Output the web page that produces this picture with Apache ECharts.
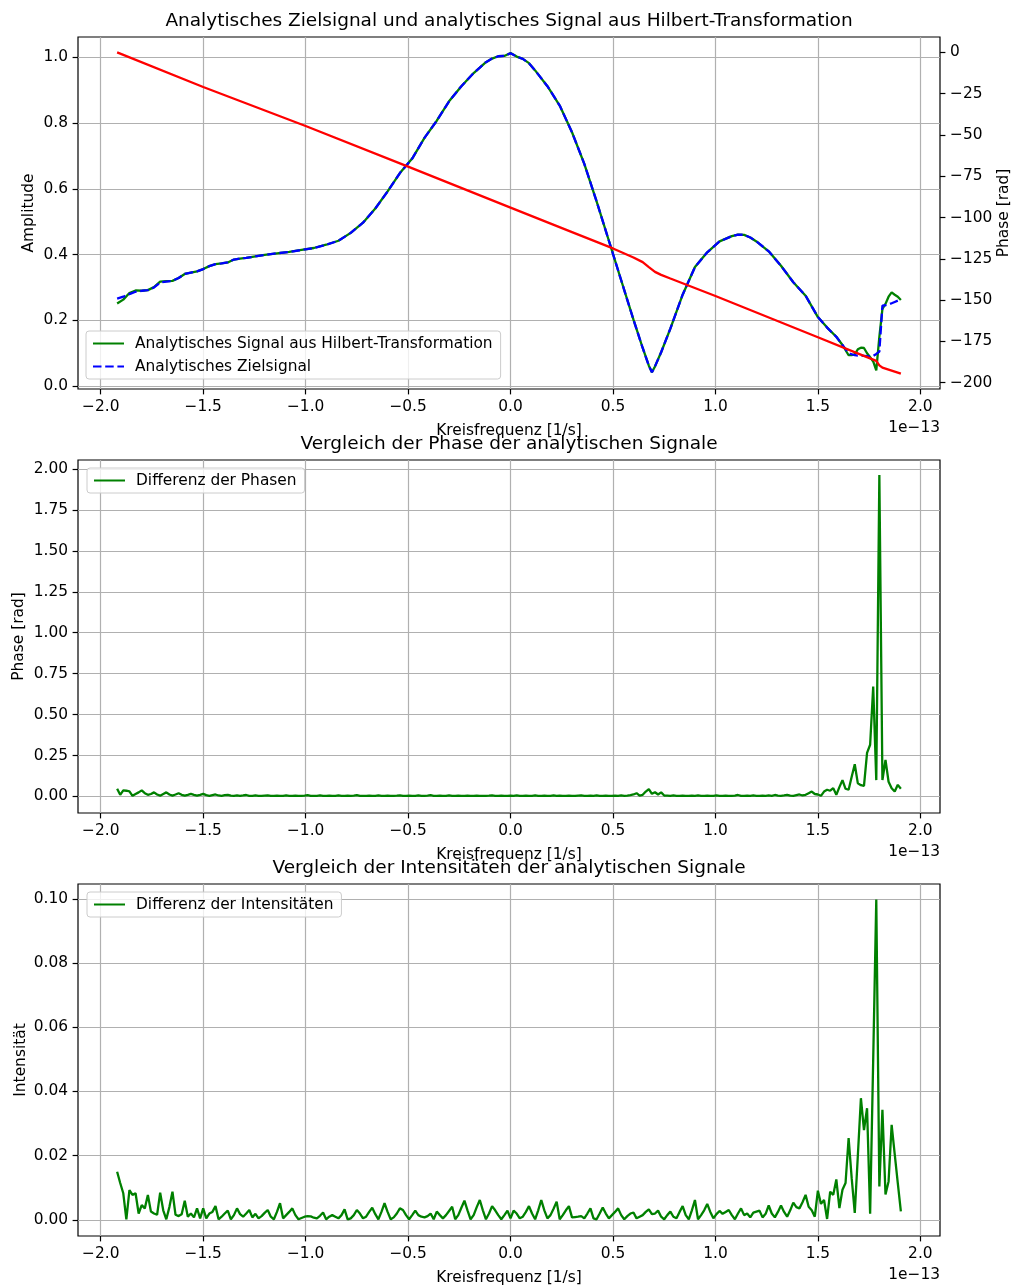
<!DOCTYPE html>
<html>
<head>
<meta charset="utf-8">
<title>Analytisches Signal</title>
<script src="https://cdn.jsdelivr.net/npm/echarts@6/dist/echarts.min.js"></script>
<style>
  html, body { margin: 0; padding: 0; background: #ffffff; }
  #chart { width: 1014px; height: 1286px; }
</style>
</head>
<body>
<div id="chart"></div>
<script>
// ---------------------------------------------------------------------------
// Data (frequency values are in units of 1e-13, shown by the offset label)
// ---------------------------------------------------------------------------
const FREQ_OFFSET_LABEL = '1e\u221213';
const N_SAMPLES = 256;
const FREQ_STEP = 0.015;
// fftshift-ordered sampling grid, -N/2 ... N/2-1 steps
const omega = Array.from({ length: N_SAMPLES }, (_, i) => (i - N_SAMPLES / 2) * FREQ_STEP);

// Amplitude curves (top panel)
const ampFreq = [
  -1.92, -1.89, -1.86, -1.83, -1.80, -1.77, -1.74, -1.71, -1.68, -1.65,
  -1.62, -1.59, -1.56, -1.53, -1.50, -1.47, -1.44, -1.41, -1.38, -1.35,
  -1.32, -1.29, -1.26, -1.23, -1.20, -1.14, -1.08, -1.02, -0.96, -0.90,
  -0.84, -0.78, -0.72, -0.66, -0.60, -0.54, -0.48, -0.42, -0.36, -0.30,
  -0.24, -0.18, -0.12, -0.09, -0.06, -0.03, 0.00, 0.03, 0.06, 0.09,
  0.12, 0.18, 0.24, 0.30, 0.36, 0.42, 0.48, 0.54, 0.60, 0.645,
  0.675, 0.69, 0.705, 0.735, 0.78, 0.84, 0.90, 0.96, 1.02, 1.08,
  1.11, 1.14, 1.17, 1.20, 1.26, 1.32, 1.38, 1.44, 1.50, 1.545,
  1.59, 1.62, 1.65, 1.665, 1.68, 1.695, 1.71, 1.725, 1.74, 1.755,
  1.77, 1.785, 1.80, 1.815, 1.83, 1.845, 1.86, 1.875, 1.89, 1.905
];
const ampHilbert = [
  0.251, 0.263, 0.283, 0.291, 0.290, 0.292, 0.301, 0.318, 0.319, 0.320,
  0.329, 0.341, 0.345, 0.349, 0.356, 0.365, 0.371, 0.373, 0.376, 0.385,
  0.388, 0.390, 0.393, 0.396, 0.399, 0.404, 0.408, 0.414, 0.420, 0.430,
  0.442, 0.466, 0.497, 0.540, 0.592, 0.648, 0.692, 0.755, 0.807, 0.866,
  0.912, 0.952, 0.985, 0.996, 1.003, 1.004, 1.013, 1.002, 0.995, 0.982,
  0.960, 0.912, 0.853, 0.772, 0.676, 0.562, 0.442, 0.322, 0.202, 0.116,
  0.062, 0.042, 0.060, 0.103, 0.175, 0.278, 0.362, 0.407, 0.440, 0.456,
  0.461, 0.460, 0.452, 0.440, 0.410, 0.366, 0.316, 0.275, 0.210, 0.178,
  0.150, 0.125, 0.094, 0.094, 0.097, 0.112, 0.117, 0.116, 0.100, 0.088,
  0.075, 0.048, 0.150, 0.235, 0.250, 0.272, 0.285, 0.278, 0.272, 0.262
];
const ampTarget = [
  0.266, 0.272, 0.280, 0.287, 0.290, 0.292, 0.300, 0.315, 0.318, 0.320,
  0.329, 0.341, 0.345, 0.349, 0.356, 0.365, 0.371, 0.373, 0.376, 0.385,
  0.388, 0.390, 0.393, 0.396, 0.399, 0.404, 0.408, 0.414, 0.420, 0.430,
  0.442, 0.466, 0.497, 0.540, 0.592, 0.648, 0.692, 0.755, 0.807, 0.866,
  0.912, 0.952, 0.985, 0.996, 1.003, 1.004, 1.012, 1.002, 0.995, 0.982,
  0.960, 0.912, 0.853, 0.772, 0.676, 0.562, 0.442, 0.322, 0.202, 0.116,
  0.062, 0.042, 0.060, 0.103, 0.175, 0.278, 0.362, 0.407, 0.440, 0.456,
  0.461, 0.460, 0.452, 0.440, 0.410, 0.366, 0.316, 0.275, 0.210, 0.178,
  0.150, 0.125, 0.100, 0.097, 0.094, 0.093, 0.093, 0.092, 0.091, 0.090,
  0.092, 0.098, 0.105, 0.245, 0.246, 0.250, 0.252, 0.256, 0.260, 0.263
];

// Phase of the target signal (top panel, right axis)
const phaseFreq = [
  -1.92, -1.50, -1.00, -0.50, 0.00, 0.30, 0.50, 0.60, 0.645, 0.675,
  0.705, 0.735, 0.78, 1.00, 1.50, 1.70, 1.77, 1.785, 1.80, 1.815, 1.905
];
const phaseTarget = [
  0.0, -21.0, -44.6, -69.2, -94.0, -108.8, -118.7, -124.2, -127.0, -130.0,
  -132.9, -134.7, -136.9, -147.5, -172.5, -182.5, -186.0, -186.8, -189.5, -190.9, -194.5
];

// Phase difference (middle panel), one value per sample of omega
const phaseDiff = [
  0.047, 0.010, 0.037, 0.035, 0.031, 0.004, 0.015, 0.025, 0.037, 0.020,
  0.010, 0.015, 0.025, 0.012, 0.005, 0.015, 0.025, 0.012, 0.005, 0.012,
  0.020, 0.010, 0.005, 0.010, 0.016, 0.010, 0.005, 0.010, 0.016, 0.008,
  0.004, 0.008, 0.012, 0.006, 0.004, 0.008, 0.010, 0.005, 0.004, 0.007,
  0.004, 0.006, 0.009, 0.004, 0.003, 0.006, 0.004, 0.003, 0.005, 0.007,
  0.004, 0.003, 0.005, 0.004, 0.003, 0.006, 0.004, 0.003, 0.005, 0.004,
  0.003, 0.005, 0.008, 0.004, 0.003, 0.004, 0.006, 0.003, 0.004, 0.005,
  0.003, 0.004, 0.006, 0.003, 0.004, 0.005, 0.003, 0.005, 0.008, 0.004,
  0.003, 0.004, 0.005, 0.003, 0.004, 0.006, 0.003, 0.004, 0.005, 0.003,
  0.004, 0.005, 0.007, 0.003, 0.004, 0.005, 0.003, 0.004, 0.006, 0.003,
  0.004, 0.005, 0.008, 0.004, 0.003, 0.005, 0.004, 0.003, 0.007, 0.004,
  0.003, 0.005, 0.004, 0.003, 0.005, 0.004, 0.003, 0.005, 0.004, 0.003,
  0.004, 0.005, 0.007, 0.004, 0.003, 0.005, 0.004, 0.003, 0.005, 0.004,
  0.007, 0.003, 0.004, 0.005, 0.003, 0.004, 0.006, 0.003, 0.004, 0.005,
  0.003, 0.004, 0.006, 0.003, 0.005, 0.004, 0.003, 0.005, 0.004, 0.003,
  0.005, 0.006, 0.004, 0.003, 0.005, 0.004, 0.006, 0.003, 0.004, 0.005,
  0.004, 0.003, 0.005, 0.004, 0.006, 0.004, 0.005, 0.008, 0.012, 0.020,
  0.005, 0.010, 0.030, 0.045, 0.016, 0.026, 0.012, 0.025, 0.006, 0.005,
  0.004, 0.006, 0.004, 0.003, 0.005, 0.004, 0.003, 0.005, 0.004, 0.006,
  0.003, 0.004, 0.005, 0.003, 0.004, 0.006, 0.004, 0.003, 0.005, 0.004,
  0.003, 0.005, 0.009, 0.004, 0.003, 0.005, 0.004, 0.006, 0.004, 0.003,
  0.005, 0.004, 0.006, 0.004, 0.009, 0.005, 0.004, 0.006, 0.010, 0.005,
  0.004, 0.008, 0.012, 0.006, 0.010, 0.020, 0.030, 0.015, 0.012, 0.004,
  0.030, 0.041, 0.035, 0.051, 0.010, 0.057, 0.100, 0.047, 0.041, 0.120,
  0.197, 0.080, 0.069, 0.065, 0.266, 0.316, 0.672, 0.100, 1.964, 0.100,
  0.223, 0.090, 0.050, 0.030, 0.071, 0.047
];

// Intensity difference (bottom panel), one value per sample of omega
const intensityDiff = [
  0.0150, 0.0115, 0.0083, 0.0002, 0.0093, 0.0078, 0.0083, 0.0020, 0.0046, 0.0036,
  0.0078, 0.0026, 0.0020, 0.0016, 0.0085, 0.0030, 0.0002, 0.0040, 0.0088, 0.0016,
  0.0012, 0.0018, 0.0060, 0.0010, 0.0020, 0.0008, 0.0036, 0.0005, 0.0036, 0.0005,
  0.0020, 0.0025, 0.0043, 0.0002, 0.0010, 0.0020, 0.0029, 0.0002, 0.0015, 0.0036,
  0.0018, 0.0010, 0.0020, 0.0031, 0.0008, 0.0019, 0.0005, 0.0012, 0.0022, 0.0031,
  0.0010, 0.0002, 0.0025, 0.0052, 0.0005, 0.0015, 0.0025, 0.0036, 0.0015, 0.0002,
  0.0006, 0.0010, 0.0012, 0.0011, 0.0007, 0.0005, 0.0013, 0.0023, 0.0002, 0.0010,
  0.0015, 0.0010, 0.0005, 0.0015, 0.0033, 0.0002, 0.0005, 0.0015, 0.0031, 0.0020,
  0.0005, 0.0010, 0.0025, 0.0038, 0.0018, 0.0002, 0.0025, 0.0052, 0.0025, 0.0002,
  0.0008, 0.0020, 0.0036, 0.0031, 0.0015, 0.0002, 0.0015, 0.0029, 0.0015, 0.0010,
  0.0008, 0.0012, 0.0020, 0.0002, 0.0026, 0.0015, 0.0005, 0.0015, 0.0028, 0.0041,
  0.0002, 0.0015, 0.0038, 0.0060, 0.0030, 0.0002, 0.0015, 0.0040, 0.0062, 0.0030,
  0.0002, 0.0020, 0.0043, 0.0030, 0.0015, 0.0002, 0.0015, 0.0029, 0.0005, 0.0029,
  0.0020, 0.0005, 0.0010, 0.0025, 0.0043, 0.0020, 0.0002, 0.0030, 0.0062, 0.0030,
  0.0005, 0.0015, 0.0035, 0.0057, 0.0002, 0.0015, 0.0030, 0.0043, 0.0008, 0.0009,
  0.0010, 0.0012, 0.0005, 0.0020, 0.0036, 0.0005, 0.0002, 0.0020, 0.0039, 0.0020,
  0.0005, 0.0015, 0.0025, 0.0036, 0.0015, 0.0002, 0.0012, 0.0020, 0.0023, 0.0005,
  0.0010, 0.0015, 0.0025, 0.0033, 0.0018, 0.0020, 0.0029, 0.0010, 0.0002, 0.0015,
  0.0026, 0.0010, 0.0005, 0.0025, 0.0043, 0.0015, 0.0002, 0.0030, 0.0062, 0.0002,
  0.0015, 0.0030, 0.0050, 0.0025, 0.0005, 0.0018, 0.0028, 0.0019, 0.0025, 0.0031,
  0.0015, 0.0002, 0.0020, 0.0036, 0.0015, 0.0020, 0.0008, 0.0023, 0.0026, 0.0029,
  0.0008, 0.0019, 0.0045, 0.0020, 0.0008, 0.0025, 0.0045, 0.0025, 0.0010, 0.0030,
  0.0054, 0.0040, 0.0036, 0.0055, 0.0078, 0.0041, 0.0030, 0.0010, 0.0091, 0.0050,
  0.0062, 0.0003, 0.0088, 0.0078, 0.0126, 0.0037, 0.0094, 0.0115, 0.0255, 0.0130,
  0.0022, 0.0200, 0.0379, 0.0280, 0.0348, 0.0019, 0.0500, 0.0998, 0.0104, 0.0343,
  0.0079, 0.0120, 0.0296, 0.0205, 0.0115, 0.0027
];

// Tick positions
const freqTicks = [-2.0, -1.5, -1.0, -0.5, 0.0, 0.5, 1.0, 1.5, 2.0];
const amplitudeTicks = [0.0, 0.2, 0.4, 0.6, 0.8, 1.0];
const phaseTicks = [-200, -175, -150, -125, -100, -75, -50, -25, 0];
const phaseDiffTicks = [0.0, 0.25, 0.5, 0.75, 1.0, 1.25, 1.5, 1.75, 2.0];
const intensityTicks = [0.0, 0.02, 0.04, 0.06, 0.08, 0.10];

// Texts
const TITLES = [
  'Analytisches Zielsignal und analytisches Signal aus Hilbert-Transformation',
  'Vergleich der Phase der analytischen Signale',
  'Vergleich der Intensitäten der analytischen Signale'
];
const NAME_HILBERT = 'Analytisches Signal aus Hilbert-Transformation';
const NAME_TARGET = 'Analytisches Zielsignal';
const NAME_PHASE = 'Phase Zielsignal';
const NAME_PHASE_DIFF = 'Differenz der Phasen';
const NAME_INT_DIFF = 'Differenz der Intensitäten';

// ---------------------------------------------------------------------------
// Layout and styling
// ---------------------------------------------------------------------------
const FONT = 'DejaVu Sans';
const FS_TICK = 15.4;
const FS_TITLE = 18.5;
const TEXT = '#000000';
const GRID_COLOR = '#b0b0b0';
const GREEN = '#008000';
const BLUE = '#0000ff';
const RED = '#ff0000';
const LINE_W = 2.3;

const PLOT_LEFT = 78, PLOT_RIGHT = 940;
const panels = [
  { top: 37, height: 352 },
  { top: 460, height: 353 },
  { top: 884, height: 352 }
];
const FREQ_MIN = -2.111, FREQ_MAX = 2.096;

const minusify = s => s.replace('-', '\u2212');
const fmt = dec => v => minusify(Number(v).toFixed(dec));

const tickStyle = { show: true, inside: false, length: 5.4, lineStyle: { color: TEXT, width: 1.2 } };
const labelBase = { fontFamily: FONT, fontSize: FS_TICK, color: TEXT };
const nameStyle = { fontFamily: FONT, fontSize: FS_TICK, color: TEXT };
const splitStyle = { show: true, lineStyle: { color: GRID_COLOR, width: 1.2 } };

function freqAxis(gridIndex) {
  return {
    type: 'value', gridIndex, min: FREQ_MIN, max: FREQ_MAX, position: 'bottom',
    name: 'Kreisfrequenz [1/s]', nameLocation: 'middle', nameGap: 34, nameMoveOverlap: false,
    nameTextStyle: nameStyle,
    axisLine: { show: false, onZero: false },
    axisTick: Object.assign({ customValues: freqTicks }, tickStyle),
    axisLabel: Object.assign({ customValues: freqTicks, formatter: fmt(1), margin: 10 }, labelBase),
    splitLine: splitStyle
  };
}

function valueAxis(opts) {
  return {
    type: 'value', gridIndex: opts.grid, min: opts.min, max: opts.max,
    position: opts.position || 'left',
    name: opts.name, nameLocation: 'middle', nameRotate: 90, nameGap: opts.nameGap,
    nameMoveOverlap: false,
    nameTextStyle: nameStyle,
    axisLine: { show: false, onZero: false },
    axisTick: Object.assign({ customValues: opts.ticks }, tickStyle),
    axisLabel: Object.assign({ customValues: opts.ticks, formatter: fmt(opts.dec), margin: opts.margin || 10 }, labelBase),
    splitLine: opts.split === false ? { show: false } : splitStyle
  };
}

function legendBox(names, left, top) {
  return {
    data: names.map(n => ({ name: n })),
    orient: 'vertical', left, top,
    itemWidth: 31, itemHeight: 14, itemGap: 8,
    padding: [5, 8, 5, 6],
    backgroundColor: 'rgba(255,255,255,0.8)',
    borderColor: '#cccccc', borderWidth: 1, borderRadius: 3,
    selectedMode: false,
    // only the line part of the icon is shown
    itemStyle: { color: 'rgba(0,0,0,0)', borderColor: 'rgba(0,0,0,0)', borderWidth: 0, opacity: 0 },
    textStyle: { fontFamily: FONT, fontSize: FS_TICK, color: TEXT, padding: [0, 0, 0, 6] }
  };
}

function lineSeries(name, xs, ys, xi, yi, color, dash) {
  return {
    type: 'line', name, xAxisIndex: xi, yAxisIndex: yi,
    data: xs.map((x, i) => [x, ys[i]]),
    symbol: 'none', showSymbol: false, smooth: false,
    lineStyle: { color, width: LINE_W, type: dash || 'solid' },
    itemStyle: { color },
    emphasis: { disabled: true },
    animation: false
  };
}

const chart = echarts.init(document.getElementById('chart'), null, { renderer: 'canvas' });

const option = {
  backgroundColor: '#ffffff',
  animation: false,
  textStyle: { fontFamily: FONT },
  title: TITLES.map((t, i) => ({
    text: t, left: (PLOT_LEFT + PLOT_RIGHT) / 2, textAlign: 'center',
    top: panels[i].top - 25, padding: 0,
    textStyle: { fontFamily: FONT, fontSize: FS_TITLE, fontWeight: 'normal', color: TEXT }
  })),
  grid: panels.map(p => ({
    left: PLOT_LEFT, top: p.top, width: PLOT_RIGHT - PLOT_LEFT, height: p.height,
    show: true, borderColor: '#000000', borderWidth: 1.2, backgroundColor: 'transparent',
    containLabel: false, outerBoundsMode: 'none'
  })),
  xAxis: [freqAxis(0), freqAxis(1), freqAxis(2)],
  yAxis: [
    valueAxis({ grid: 0, min: -0.0087, max: 1.0616, ticks: amplitudeTicks, dec: 1, name: 'Amplitude', nameGap: 41.5 }),
    valueAxis({ grid: 0, min: -203.8, max: 9.3, ticks: phaseTicks, dec: 0, name: 'Phase [rad]', nameGap: 56, position: 'right', split: false, margin: 10 }),
    valueAxis({ grid: 1, min: -0.101, max: 2.055, ticks: phaseDiffTicks, dec: 2, name: 'Phase [rad]', nameGap: 51.5 }),
    valueAxis({ grid: 2, min: -0.005, max: 0.1046, ticks: intensityTicks, dec: 2, name: 'Intensität', nameGap: 50 })
  ],
  legend: [
    legendBox([NAME_HILBERT, NAME_TARGET], 86, 331),
    legendBox([NAME_PHASE_DIFF], 87, 468),
    legendBox([NAME_INT_DIFF], 87, 892)
  ],
  graphic: panels.map(p => ({
    type: 'text', right: 1014 - PLOT_RIGHT, top: p.top + p.height + 31,
    style: { text: FREQ_OFFSET_LABEL, font: FS_TICK + 'px ' + FONT, fill: TEXT }
  })),
  series: [
    lineSeries(NAME_HILBERT, ampFreq, ampHilbert, 0, 0, GREEN),
    lineSeries(NAME_TARGET, ampFreq, ampTarget, 0, 0, BLUE, [8.5, 3.7]),
    lineSeries(NAME_PHASE, phaseFreq, phaseTarget, 0, 1, RED),
    lineSeries(NAME_PHASE_DIFF, omega, phaseDiff, 1, 2, GREEN),
    lineSeries(NAME_INT_DIFF, omega, intensityDiff, 2, 3, GREEN)
  ]
};

chart.setOption(option);
</script>
</body>
</html>
